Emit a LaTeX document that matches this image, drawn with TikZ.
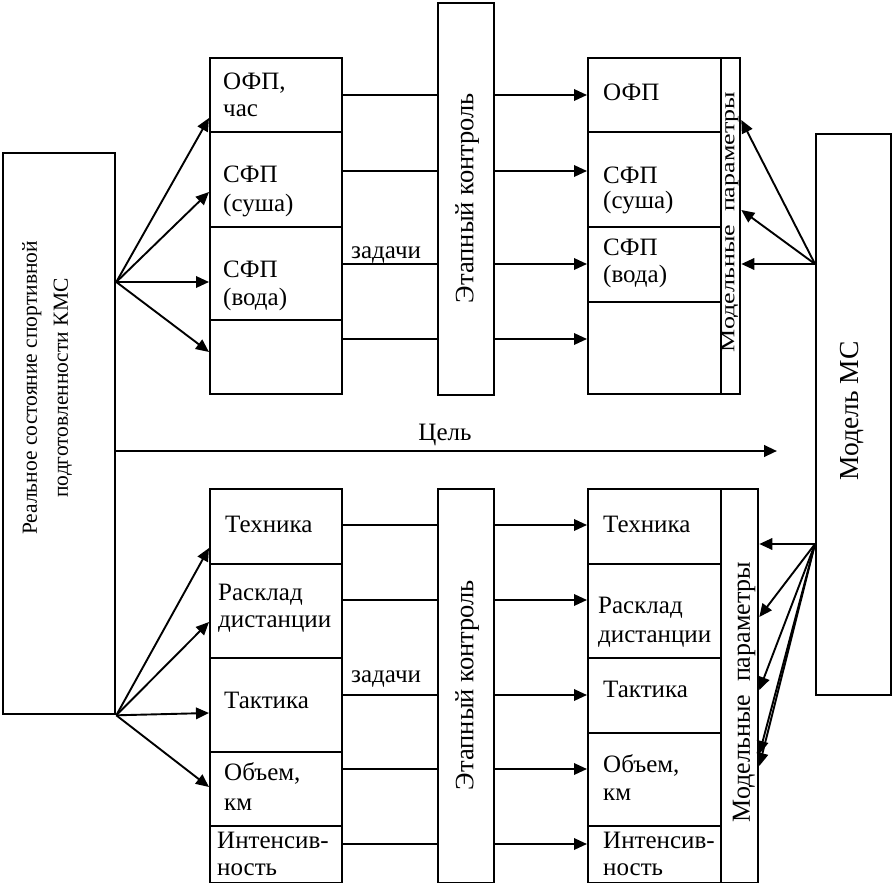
\documentclass[tikz,border=0pt]{standalone}
\usepackage{fontspec}
\setmainfont{Liberation Serif}
\usetikzlibrary{arrows.meta}
\begin{document}
\begin{tikzpicture}[x=1pt,y=-1pt,
  box/.style={draw, line width=2.3pt, inner sep=0pt, anchor=north west},
  lbl/.style={anchor=base west, inner sep=0pt, align=left, font=\fontsize{25}{28}\selectfont},
  rot/.style={rotate=90, inner sep=0pt, align=center, font=\fontsize{26.5}{31}\selectfont},
  arr/.style={-{Triangle[length=13pt,width=11.5pt]}, line width=1.9pt},
  thinline/.style={line width=1.3pt},
  thickline/.style={line width=1.9pt}]
\useasboundingbox (0,0) rectangle (892,883);

% left big box
\node[box, minimum width=112pt, minimum height=561pt] (LB) at (2,152) {};
\node[rot, font=\fontsize{21.5}{31}\selectfont] (LBt) at (47,388) {Реальное состояние спортивной\\подготовленности КМС};

% model box
\node[box, minimum width=75pt, minimum height=561pt] (M) at (815,133) {};
\node[rot, font=\fontsize{27.5}{31}\selectfont] (Mt) at (852,411) {Модель МС};

% top left column
\node[box, minimum width=132pt, minimum height=74pt] (L1) at (209,57) {};
\node[box, minimum width=132pt, minimum height=95pt] (L2) at (209,131) {};
\node[box, minimum width=132pt, minimum height=93pt] (L3) at (209,226) {};
\node[box, minimum width=132pt, minimum height=74pt] (L4) at (209,319) {};
\node[lbl, font=\fontsize{25}{27}\selectfont] (L1t) at (223,117) {ОФП,\\час};
\node[lbl, font=\fontsize{25}{29}\selectfont] (L2t) at (223,211) {СФП\\(суша)};
\node[lbl, font=\fontsize{25}{28}\selectfont] (L3t) at (223,305) {СФП\\(вода)};

% top stage control
\node[box, minimum width=56pt, minimum height=392pt] (E1) at (437,2) {};
\node[rot] (E1t) at (467,198) {Этапный контроль};

% top right column
\node[box, minimum width=133pt, minimum height=74pt] (R1) at (587,57) {};
\node[box, minimum width=133pt, minimum height=95pt] (R2) at (587,131) {};
\node[box, minimum width=133pt, minimum height=75pt] (R3) at (587,226) {};
\node[box, minimum width=133pt, minimum height=92pt] (R4) at (587,301) {};
\node[box, minimum width=19pt, minimum height=336pt] (S1) at (720,57) {};
\node[lbl] (R1t) at (603,100) {ОФП};
\node[lbl, font=\fontsize{25}{25}\selectfont] (R2t) at (603,208) {СФП\\(суша)};
\node[lbl, font=\fontsize{25}{27}\selectfont] (R3t) at (603,282) {СФП\\(вода)};
\node[rot, font=\fontsize{26}{31}\selectfont] (S1t) at (730,222) {\scalebox{1}[0.75]{Модельные\ \ параметры}};

% bottom left column
\node[box, minimum width=132pt, minimum height=75pt] (L5) at (209,488) {};
\node[box, minimum width=132pt, minimum height=94pt] (L6) at (209,563) {};
\node[box, minimum width=132pt, minimum height=94pt] (L7) at (209,657) {};
\node[box, minimum width=132pt, minimum height=74pt] (L8) at (209,751) {};
\node[box, minimum width=132pt, minimum height=57pt] (L9) at (209,825) {};
\node[lbl] (L5t) at (225,532) {Техника};
\node[lbl, font=\fontsize{25}{27}\selectfont] (L6t) at (218,627) {Расклад\\дистанции};
\node[lbl] (L7t) at (224,708) {Тактика};
\node[lbl, font=\fontsize{25}{30}\selectfont] (L8t) at (224,810) {Объем,\\км};
\node[lbl, font=\fontsize{25}{27}\selectfont] (L9t) at (217,875) {Интенсив-\\ность};

% bottom stage control
\node[box, minimum width=56pt, minimum height=394pt] (E2) at (437,488) {};
\node[rot] (E2t) at (467,685) {Этапный контроль};

% bottom right column
\node[box, minimum width=133pt, minimum height=75pt] (R5) at (587,488) {};
\node[box, minimum width=133pt, minimum height=94pt] (R6) at (587,563) {};
\node[box, minimum width=133pt, minimum height=75pt] (R7) at (587,657) {};
\node[box, minimum width=133pt, minimum height=93pt] (R8) at (587,732) {};
\node[box, minimum width=133pt, minimum height=57pt] (R9) at (587,825) {};
\node[box, minimum width=37pt, minimum height=394pt] (S2) at (720,488) {};
\node[lbl] (R5t) at (603,532) {Техника};
\node[lbl, font=\fontsize{25}{29}\selectfont] (R6t) at (598,642) {Расклад\\дистанции};
\node[lbl] (R7t) at (603,697) {Тактика};
\node[lbl, font=\fontsize{25}{28}\selectfont] (R8t) at (603,800) {Объем,\\км};
\node[lbl, font=\fontsize{25}{27}\selectfont] (R9t) at (603,875) {Интенсив-\\ность};
\node[rot, font=\fontsize{26}{31}\selectfont] (S2t) at (744,692) {Модельные\ \ параметры};

% labels
\node[lbl] (z1) at (351,258) {задачи};
\node[lbl] (z2) at (351,682) {задачи};
\node[lbl, anchor=base] (goalt) at (445,440) {Цель};

% top connectors
\foreach \y/\l/\r in {95/L1/R1, 171/L2/R2, 264/L3/R3, 339/L4/R4}{
  \draw[thinline] (\l.east |- 0,\y) -- (E1.west |- 0,\y);
  \draw[arr] (E1.east |- 0,\y) -- (\r.west |- 0,\y);
}
% bottom connectors
\foreach \y/\l/\r in {525/L5/R5, 600/L6/R6, 695/L7/R7, 769/L8/R8, 844/L9/R9}{
  \draw[thickline] (\l.east |- 0,\y) -- (E2.west |- 0,\y);
  \draw[arr] (E2.east |- 0,\y) -- (\r.west |- 0,\y);
}

% from left box
\coordinate (src1) at (LB.east |- 0,282);
\draw[arr] (src1) -- (L1.west |- 0,118);
\draw[arr] (src1) -- (L2.west |- 0,192);
\draw[arr] (src1) -- (L3.west |- 0,282);
\draw[arr] (src1) -- (L4.west |- 0,352);
\coordinate (src2) at (LB.south east);
\draw[arr] (src2) -- (L5.west |- 0,548);
\draw[arr] (src2) -- (L6.west |- 0,622);
\draw[arr] (src2) -- (L7.west |- 0,713);
\draw[arr] (src2) -- (L8.west |- 0,787);

% goal arrow
\coordinate (goal) at (777,451);
\draw[arr, line width=2.5pt] (LB.east |- goal) -- (goal);

% from model
\coordinate (m1) at (M.west |- 0,264);
\draw[arr] (m1) -- (S1.east |- 0,120);
\draw[arr] (m1) -- (S1.east |- 0,210);
\draw[arr] (m1) -- (S1.east |- 0,264);
\coordinate (m2) at (M.west |- 0,544);
\draw[arr] (m2) -- (S2.east |- 0,544);
\draw[arr] (m2) -- (S2.east |- 0,617);
\draw[arr] (m2) -- (S2.east |- 0,690);
\draw[arr] (m2) -- (S2.east |- 0,754);
\draw[arr] (m2) -- (S2.east |- 0,766);
\end{tikzpicture}
\end{document}
